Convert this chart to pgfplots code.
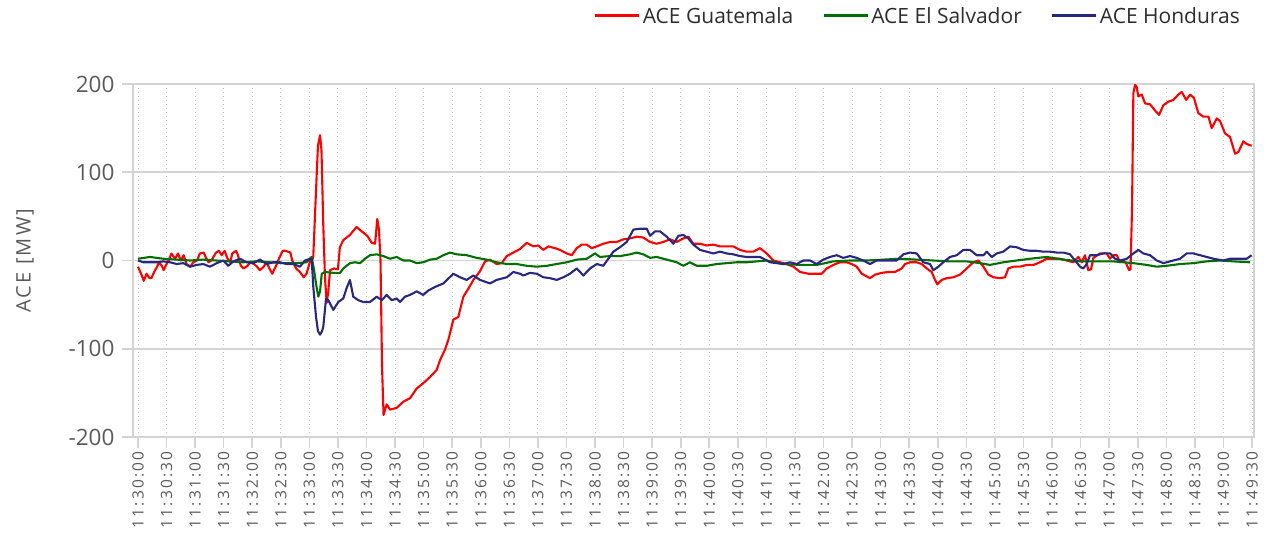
\documentclass[border=0pt]{standalone}
\usepackage{fontspec}
\setmainfont{Open Sans}
\newfontfamily\spaced[LetterSpace=14]{Open Sans}
\newfontfamily\spacedb[LetterSpace=11]{Open Sans}
\usepackage{pgfplots}
\pgfplotsset{compat=1.18}
\usetikzlibrary{calc}
\definecolor{gred}{RGB}{255,0,0}
\definecolor{ggreen}{RGB}{0,110,0}
\definecolor{gblue}{RGB}{40,40,128}
\definecolor{boxgray}{RGB}{212,212,212}
\definecolor{dotgray}{RGB}{200,200,200}
\definecolor{labgray}{RGB}{90,90,90}
\definecolor{legtext}{RGB}{45,45,45}
\begin{document}
\begin{tikzpicture}
\begin{axis}[name=ax, scale only axis, width=1121pt, height=353pt,
 xmin=-5.25, xmax=1172.1, ymin=-200, ymax=200,
 xtick={0,30,...,1170},
 xticklabels={11:30:00,11:30:30,11:31:00,11:31:30,11:32:00,11:32:30,11:33:00,11:33:30,11:34:00,11:34:30,11:35:00,11:35:30,11:36:00,11:36:30,11:37:00,11:37:30,11:38:00,11:38:30,11:39:00,11:39:30,11:40:00,11:40:30,11:41:00,11:41:30,11:42:00,11:42:30,11:43:00,11:43:30,11:44:00,11:44:30,11:45:00,11:45:30,11:46:00,11:46:30,11:47:00,11:47:30,11:48:00,11:48:30,11:49:00,11:49:30},
 ytick={-200,-100,0,100,200}, yticklabels={-200,-100,0,100,200},
 axis line style={draw=boxgray, line width=1.6pt},
 xmajorgrids, ymajorgrids,
 x grid style={draw=dotgray, line width=0.9pt, dash pattern=on 1.2pt off 2.8pt},
 y grid style={draw=boxgray, line width=1.6pt},
 tick align=outside, tick pos=left, major tick length=11pt,
 tick style={draw=boxgray, line width=1.6pt},
 yticklabel style={font=\fontsize{22.5}{26}\selectfont, text=labgray, xshift=-4pt},
 xticklabel style={rotate=90, anchor=east, font=\spaced\fontsize{15.5}{18}\selectfont, text=labgray},
 ylabel={ACE [MW]},
 ylabel style={at={(axis description cs:-0.0963,0.5)}, anchor=center, font=\spacedb\fontsize{20}{24}\selectfont, text=labgray},
 legend columns=3,
 legend style={at={(1,1)}, anchor=east, xshift=-9pt, yshift=68pt, draw=none, fill=none,
   font=\fontsize{21}{25}\selectfont, text=legtext,
   /tikz/every even column/.append style={column sep=27pt}},
 legend image code/.code={\draw[line width=3pt] (0pt,0pt) -- (44pt,0pt);},
 every axis plot/.append style={line width=2.1pt, line join=round},
]
\addplot[gred] coordinates {
(0,-7)(4,-17)(6,-23)(9,-15)(12,-20)(14,-20)(17,-13)(20,-7)(22,-2)(25,-6)(27,-11)(29,-6)(33,2)(35,8)(39,2)(42,8)(45,0)(48,6)(51,-4)(55,-7)(58,-2)(62,0)(65,8)(69,9)(71,4)(74,-2)(77,0)(82,9)(85,11)(88,6)(91,11)(94,2)(97,-2)(99,8)(103,11)(105,6)(108,-6)(111,-9)(115,-6)(118,-2)(122,-4)(125,-7)(128,-11)(132,-7)(135,-2)(138,-9)(141,-15)(145,-6)(148,2)(152,11)(155,11)(160,9)(162,0)(166,-9)(170,-13)(174,-19)(177,-15)(181,0)(183.5,2)(184.1,5)
(187,80)(189,130)(191.2,142)(192.7,125)(194.6,40)(196.4,-20)(198.2,-48)(199.9,-35)(201.7,-11)(205.9,-9)(210,-10)(212,15)(215.6,23)(222.6,29)(229.5,38)(235,33)(240.8,28)(245.5,20)(249,19)(251.3,47)(253.1,35)(254.7,0)(256.3,-120)(257.9,-175)(261.2,-163)(264.7,-169)(271.7,-167)(278.6,-160)(285.7,-156)(292.7,-145)(299.6,-139)(306.7,-132)(313.7,-124)(317.2,-113)(322.4,-101)(325.9,-90)(331.2,-67)(336.4,-64)(341.7,-41)(346.9,-32)(352.2,-22)(359.2,-12)(364.5,-1)(369.7,1)(376.7,-4)(382,-3)(387.3,5)(394.2,9)(401.2,13)(408.3,20)(415.2,16)(420.4,17)(425.7,12)(430.9,16)(437.9,14)(443.2,12)(450.3,8)(455.5,6)(460.8,14)(466,18)(471.3,18)(476.5,14)(481.8,16)(488.7,19)(495.7,21)(502.8,21)(509.7,24)(516.7,25)(523.8,27)(530.7,26)(537.8,21)(544.8,19)(551.7,21)(558.8,24)(565.8,21)(572.7,25)(578,27)(583.2,19)(590.3,19)(597.3,17)(604.2,18)(611.3,16)(618.3,16)(625.2,16)(632.3,12)(639.3,10)(646.2,10)(653.3,14)(660.3,8)(667.3,0)(674.3,-2)(681.3,-4)(688.3,-7)(695.3,-13)(704,-15)(712.8,-15)(718.1,-15)(723.3,-9)(730.3,-5)(737.3,-2)(744.3,-2)(749.6,-4)(754.8,-7)(760.1,-15)(763.6,-17)(768.8,-20)(774.1,-16)(781.1,-14)(788.1,-13)(795.1,-13)(802.1,-9)(805.6,-4)(810.9,-2)(817.9,-2)(823.1,-4)(828.4,-9)(833.6,-13)(837.1,-22)(839.5,-27)(844.2,-22)(849.4,-20)(856.3,-19)(863.3,-16)(870.4,-9)(877.3,-2)(882.6,0)(887.9,-7)(893.1,-16)(898.4,-19)(905.4,-20)(910.6,-19)(914.1,-9)(919.3,-7)(926.4,-7)(933.4,-5)(940.4,-5)(947.4,-2)(954.4,2)(961.4,2)(968.4,2)(975.4,0)(982.3,-2)(987.6,4)(991.2,-2)(994.6,6)(998.1,-11)(1001,-10)(1003.4,3)(1010.4,8)(1017.4,8)(1020.9,2)(1024.4,6)(1028,6)(1031.4,-2)(1034.9,0)(1037.7,-3)(1040.9,-11)(1042.4,-10)(1044,60)(1045.4,190)(1047.2,199)(1048.8,197)(1050.6,186)(1054.2,188)(1057.7,178)(1062.9,177)(1068.1,170)(1072.4,165)(1076.9,176)(1082.2,180)(1087.4,182)(1092.6,188)(1096.2,191)(1100.8,182)(1105,188)(1109.1,184)(1113.6,167)(1118.9,163)(1124.2,163)(1127.7,150)(1133,161)(1136.4,158)(1141.7,144)(1146.9,140)(1152.2,121)(1155.7,123)(1160.9,135)(1164.4,132)(1169.6,130)
};
\addlegendentry{ACE Guatemala}
\addplot[ggreen] coordinates {
(0,2)(12.6,4)(26.6,2)(40.6,1)(54.6,0)(68.6,1)(82.7,0)(96.6,-1)(110.6,-2)(124.7,-1)(138.6,-2)(152.6,-3)(166.7,-3)(177.2,-2)(182.4,4)(184.8,-10)(187.5,-30)(189.4,-41)(191.2,-35)(193,-15)(196.4,-13)(204.8,-14)(212.2,-14)(215.6,-9)(222.6,-3)(227.9,-2)(233.2,-3)(238.4,2)(243.7,6)(250.7,7)(257.6,5)(264.7,2)(271.7,4)(278.6,0)(285.7,0)(292.7,-3)(299.6,-2)(306.7,1)(313.7,2)(320.7,6)(327.7,9)(334.7,7)(345.2,6)(355.7,3)(366.2,1)(376.7,-2)(387.3,-4)(397.7,-4)(408.3,-6)(418.8,-7)(429.3,-6)(439.8,-4)(450.3,-2)(460.8,1)(471.3,2)(480,8)(485.2,4)(495.7,5)(506.2,5)(516.7,7)(523.8,9)(530.7,7)(537.8,3)(544.8,4)(555.3,1)(565.8,-2)(572.7,-6)(579.7,-2)(586.8,-6)(597.3,-6)(607.8,-4)(618.3,-3)(628.8,-2)(639.3,-2)(649.8,-1)(660.3,0)(677.8,-4)(695.3,-5)(712.8,-5)(730.3,-1)(747.8,0)(765.3,0)(782.8,1)(800.3,2)(817.9,1)(835.3,0)(852.8,-1)(870.4,-1)(884.3,-3)(894.8,-5)(908.8,-2)(922.9,0)(936.9,2)(954.4,4)(971.9,1)(989.4,-1)(1006.9,-1)(1024.4,-1)(1045.4,-3)(1059.4,-5)(1069.9,-7)(1080.4,-6)(1094.4,-4)(1108.4,-3)(1122.4,-1)(1136.4,0)(1150.4,-1)(1167.9,-2)
};
\addlegendentry{ACE El Salvador}
\addplot[gblue] coordinates {
(0,0)(5.6,-2)(12.6,-2)(19.6,-2)(26.6,-1)(33.6,-2)(40.6,-4)(47.6,-3)(54.6,-7)(61.7,-5)(68.6,-4)(75.6,-7)(82.7,-3)(89.6,0)(94.8,-6)(100.1,-1)(107.1,2)(114.2,-2)(121.1,-3)(128.1,1)(135.2,-4)(142.1,-2)(149.1,-2)(156.2,-4)(163.1,-4)(170.1,-7)(175.4,0)(180.7,2)(182.4,2)(184.1,-30)(187,-64)(189,-80)(191.2,-84)(193.3,-80)(194.6,-75)(197.5,-43)(199.9,-45)(205.1,-56)(210.4,-47)(215.6,-43)(219.2,-31)(222.6,-22)(226.1,-41)(231.4,-45)(236.6,-47)(243.7,-47)(250.7,-41)(256,-45)(261.2,-39)(266.5,-45)(271.7,-43)(275.2,-47)(280.4,-41)(285.7,-39)(292.7,-35)(299.6,-39)(304.9,-34)(311.9,-30)(320.7,-26)(331.2,-15)(338.2,-19)(345.2,-22)(352.2,-17)(359.2,-22)(369.7,-26)(376.7,-22)(387.3,-19)(394.2,-13)(401.2,-15)(404.7,-17)(411.7,-14)(418.8,-15)(425.7,-19)(432.7,-20)(439.8,-22)(446.7,-19)(453.7,-15)(460.8,-9)(467.7,-17)(474.8,-9)(481.8,-4)(488.7,-6)(494,2)(499.2,10)(506.2,15)(513.3,21)(520.3,35)(527.3,36)(534.3,36)(537.8,28)(543.1,33)(548.3,33)(555.3,27)(562.3,19)(567.6,28)(572.7,29)(578,25)(583.2,18)(590.3,12)(597.3,10)(604.2,8)(611.3,10)(618.3,8)(625.2,7)(632.3,5)(639.3,4)(653.3,4)(660.3,0)(663.7,-2)(677.8,-4)(684.8,-2)(691.8,-4)(698.8,0)(705.9,0)(712.8,-4)(719.7,1)(726.8,4)(733.8,6)(740.7,3)(747.8,5)(754.8,3)(761.7,0)(768.8,-4)(775.8,0)(789.8,0)(796.8,0)(803.8,7)(810.9,9)(817.9,8)(824.8,-2)(831.8,-4)(835.3,-11)(840.6,-7)(845.8,-2)(852.8,4)(859.9,6)(866.8,12)(873.8,12)(880.9,6)(887.9,6)(891.4,10)(896.7,4)(901.9,8)(908.8,10)(915.9,16)(922.9,15)(929.8,12)(936.9,11)(943.9,11)(950.8,10)(957.9,10)(964.9,9)(971.9,9)(978.9,7)(984.1,0)(989.4,-7)(992.8,-9)(996.4,-4)(999.9,6)(1006.9,6)(1013.9,8)(1020.9,8)(1026.2,2)(1031.4,0)(1038.5,2)(1045.4,8)(1050.6,12)(1055.8,8)(1062.9,6)(1069.9,0)(1076.9,-3)(1083.9,-1)(1094.4,2)(1101.4,8)(1108.4,8)(1115.4,6)(1122.4,4)(1129.4,2)(1139.9,0)(1146.9,2)(1157.4,2)(1164.4,2)(1169.6,6)
};
\addlegendentry{ACE Honduras}
\end{axis}
\pgfresetboundingbox
\path[use as bounding box] ($(ax.south west)+(-133pt,-101pt)$) rectangle ($(ax.north east)+(12pt,84pt)$);
\end{tikzpicture}
\end{document}
